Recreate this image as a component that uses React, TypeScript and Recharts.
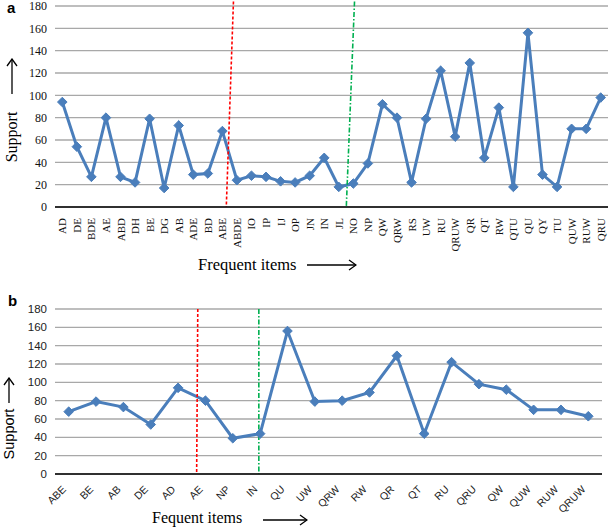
import { LineChart, Line, XAxis, YAxis, CartesianGrid, ReferenceLine } from 'recharts';

// panel a: all frequent items
const itemsA = [
  'AD', 'DE', 'BDE', 'AE', 'ABD', 'DH', 'BE', 'DG', 'AB', 'ADE', 'BD', 'ABE', 'ABDE',
  'IO', 'IP', 'IJ', 'OP', 'JN', 'IN', 'JL', 'NO', 'NP', 'QW', 'QRW', 'RS', 'UW', 'RU',
  'QRUW', 'QR', 'QT', 'RW', 'QTU', 'QU', 'QY', 'TU', 'QUW', 'RUW', 'QRU',
];
const supportA = [
  94, 54, 27, 80, 27, 22, 79, 17, 73, 29, 30, 68, 24,
  28, 27, 23, 22, 28, 44, 18, 21, 39, 92, 80, 22, 79, 122,
  63, 129, 44, 89, 18, 156, 29, 18, 70, 70, 98,
];

// panel b: selected items
const itemsB = [
  'ABE', 'BE', 'AB', 'DE', 'AD', 'AE', 'NP', 'IN', 'QU', 'UW',
  'QRW', 'RW', 'QR', 'QT', 'RU', 'QRU', 'QW', 'QUW', 'RUW', 'QRUW',
];
const supportB = [68, 79, 73, 54, 94, 80, 39, 44, 156, 79, 80, 89, 129, 44, 122, 98, 92, 70, 70, 63];

const yTicks = [0, 20, 40, 60, 80, 100, 120, 140, 160, 180];

const dataA = itemsA.map((item, i) => ({ item, support: supportA[i] }));
const dataB = itemsB.map((item, i) => ({ item, support: supportB[i] }));

const BLUE = '#4a7ebb';
const SERIF = '"Liberation Serif", "Times New Roman", serif';
const SANS = '"Liberation Sans", Arial, sans-serif';

const Diamond = (props: any) => {
  const { cx, cy, index } = props;
  if (cx == null || cy == null) return null;
  const r = 4.8;
  return (
    <path
      key={index}
      d={`M${cx},${cy - r}L${cx + r},${cy}L${cx},${cy + r}L${cx - r},${cy}Z`}
      fill={BLUE}
      stroke={BLUE}
    />
  );
};

const VerticalTick = (props: any) => {
  const { x, y, payload } = props;
  return (
    <text
      x={x}
      y={y + 3}
      transform={`rotate(-90 ${x} ${y + 3})`}
      textAnchor="end"
      dominantBaseline="central"
      fontFamily={SERIF}
      fontSize={11}
      fill="#111"
    >
      {payload.value}
    </text>
  );
};

const SlantTick = (props: any) => {
  const { x, y, payload } = props;
  return (
    <text
      x={x - 2}
      y={y + 8}
      transform={`rotate(-45 ${x - 2} ${y + 8})`}
      textAnchor="end"
      fontFamily={SANS}
      fontSize={10.5}
      fill="#222"
    >
      {payload.value}
    </text>
  );
};

function Arrow({ length }: { length: number }) {
  // long thin arrow pointing right
  return (
    <svg width={length} height={12} style={{ display: 'block' }}>
      <line x1={0} y1={6} x2={length - 1} y2={6} stroke="#000" strokeWidth={1.3} />
      <polyline points={`${length - 8},1 ${length - 1},6 ${length - 8},11`} fill="none" stroke="#000" strokeWidth={1.3} />
    </svg>
  );
}

const abs = (left: number, top: number): React.CSSProperties => ({ position: 'absolute', left, top });

export default function App() {
  return (
    <div style={{ position: 'absolute', left: 0, top: 0, width: 609, height: 528, background: '#fff', overflow: 'hidden' }}>
      {/* panel a */}
      <div style={abs(0, 0)}>
        <LineChart width={609} height={262} data={dataA} margin={{ top: 6, right: 1, bottom: 20, left: 0 }}>
          <CartesianGrid vertical={false} stroke="#a8a8a8" strokeWidth={1.3} />
          <XAxis
            xAxisId="cat"
            dataKey="item"
            interval={0}
            padding={{ left: 7.3, right: 7.3 }}
            tickLine={false}
            axisLine={{ stroke: '#000', strokeWidth: 1.6 }}
            tick={<VerticalTick />}
            height={35}
          />
          <XAxis xAxisId="num" type="number" domain={[-0.5, itemsA.length - 0.5]} hide allowDataOverflow />
          <YAxis
            domain={[0, 180]}
            ticks={yTicks}
            interval={0}
            axisLine={false}
            tickLine={false}
            width={55}
            tick={{ fontFamily: SERIF, fontSize: 12, fill: '#111' }}
          />
          <Line
            xAxisId="cat"
            type="linear"
            dataKey="support"
            stroke={BLUE}
            strokeWidth={3}
            dot={<Diamond />}
            activeDot={false}
            isAnimationActive={false}
          />
          <ReferenceLine
            xAxisId="num"
            segment={[{ x: 11.94, y: 184 }, { x: 11.46, y: 0 }]}
            stroke="#ff0000"
            strokeWidth={1.6}
            strokeDasharray="3 2"
            ifOverflow="visible"
          />
          <ReferenceLine
            xAxisId="num"
            segment={[{ x: 20.04, y: 184 }, { x: 19.49, y: 0 }]}
            stroke="#00b050"
            strokeWidth={1.6}
            strokeDasharray="5 2 1.5 2"
            ifOverflow="visible"
          />
        </LineChart>
      </div>
      <div style={{ ...abs(7, -1), fontFamily: SANS, fontWeight: 700, fontSize: 15 }}>a</div>
      <div style={{ ...abs(-28, 56), width: 80, height: 40, display: 'flex', alignItems: 'center', justifyContent: 'center', transform: 'rotate(-90deg)' }}>
        <Arrow length={36} />
      </div>
      <div
        style={{
          ...abs(-28, 127),
          width: 80,
          textAlign: 'center',
          transform: 'rotate(-90deg)',
          fontFamily: SERIF,
          fontSize: 16,
          lineHeight: '20px',
        }}
      >
        Support
      </div>
      <div style={{ ...abs(198, 255), fontFamily: SERIF, fontSize: 16.5, lineHeight: '20px' }}>Frequent items</div>
      <div style={abs(307, 259)}>
        <Arrow length={50} />
      </div>

      {/* panel b */}
      <div style={abs(0, 290)}>
        <LineChart width={609} height={238} data={dataB} margin={{ top: 19, right: 7, bottom: 19, left: 0 }}>
          <CartesianGrid vertical={false} stroke="#a8a8a8" strokeWidth={1.3} />
          <XAxis
            xAxisId="cat"
            dataKey="item"
            interval={0}
            padding={{ left: 13.7, right: 13.7 }}
            tickLine={false}
            axisLine={{ stroke: '#000', strokeWidth: 1.6 }}
            tick={<SlantTick />}
            height={35}
          />
          <XAxis xAxisId="num" type="number" domain={[-0.5, itemsB.length - 0.5]} hide allowDataOverflow />
          <YAxis
            domain={[0, 180]}
            ticks={yTicks}
            interval={0}
            axisLine={false}
            tickLine={false}
            width={55}
            tick={{ fontFamily: SANS, fontSize: 11.5, fill: '#222' }}
          />
          <Line
            xAxisId="cat"
            type="linear"
            dataKey="support"
            stroke={BLUE}
            strokeWidth={3}
            dot={<Diamond />}
            activeDot={false}
            isAnimationActive={false}
          />
          <ReferenceLine
            xAxisId="num"
            segment={[{ x: 4.96, y: 180 }, { x: 4.92, y: 0 }]}
            stroke="#ff0000"
            strokeWidth={1.6}
            strokeDasharray="3 2"
            ifOverflow="visible"
          />
          <ReferenceLine
            xAxisId="num"
            segment={[{ x: 7.08, y: 180 }, { x: 7.08, y: 0 }]}
            stroke="#00b050"
            strokeWidth={1.6}
            strokeDasharray="5 2 1.5 2"
            ifOverflow="visible"
          />
        </LineChart>
      </div>
      <div style={{ ...abs(8, 292), fontFamily: SANS, fontWeight: 700, fontSize: 15 }}>b</div>
      <div
        style={{
          ...abs(-46, 408),
          width: 110,
          height: 20,
          display: 'flex',
          alignItems: 'center',
          justifyContent: 'center',
          gap: 6,
          transform: 'rotate(-90deg)',
          fontFamily: SANS,
          fontSize: 14.5,
        }}
      >
        <span>Support</span>
        <Arrow length={26} />
      </div>
      <div style={{ ...abs(152, 508), fontFamily: SERIF, fontSize: 16, lineHeight: '20px' }}>Fequent items</div>
      <div style={abs(263, 514)}>
        <Arrow length={45} />
      </div>
    </div>
  );
}
